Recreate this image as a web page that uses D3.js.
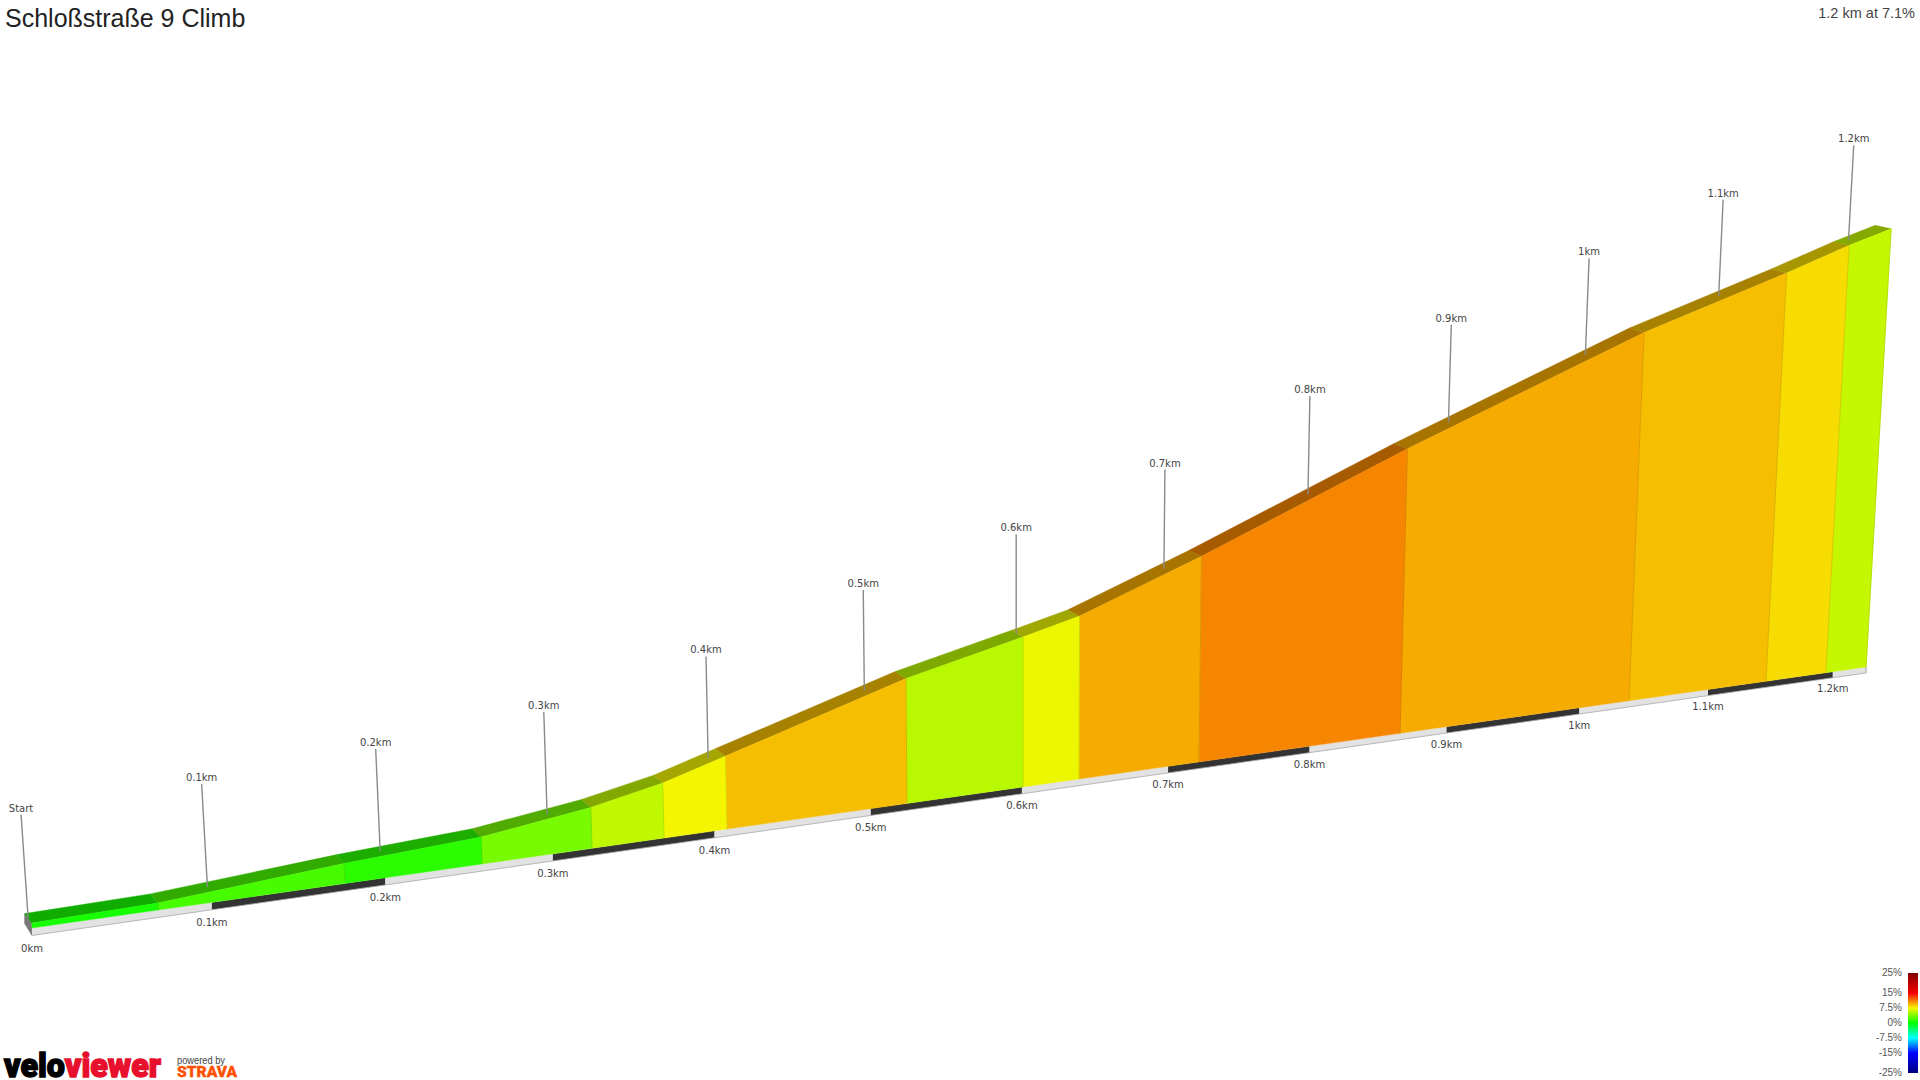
<!DOCTYPE html>
<html>
<head>
<meta charset="utf-8">
<script src="https://cdn.jsdelivr.net/npm/d3@7"></script>
<style>
html,body{margin:0;padding:0;background:#fff;overflow:hidden}
svg{display:block}
</style>
</head>
<body>
<script>
// ---- data ----
const titleText = "Schloßstraße 9 Climb";
const summaryText = "1.2 km at 7.1%";
const distancesKm = [0,0.0697,0.1764,0.2573,0.3239,0.3684,0.4079,0.5236,0.6007,0.6387,0.7216,0.8657,1.0382,1.1461,1.1944,1.2272];
const elevationsM = [0.8,1.16,3.36,4.61,7.07,9.57,12.8,22.33,27.17,29.67,37.98,53.79,71.56,80.69,85.09,87.69];
const gradesPct   = [0.7,2.2,1.3,3.66,5.85,7.4,9.2,5.6,7.2,9.8,10.9,9.8,9.2,8.3,6.0];
const kmTicks = [0,0.1,0.2,0.3,0.4,0.5,0.6,0.7,0.8,0.9,1.0,1.1,1.2];
const baseLabels = ["0km","0.1km","0.2km","0.3km","0.4km","0.5km","0.6km","0.7km","0.8km","0.9km","1km","1.1km","1.2km"];
const poleLabels = ["Start","0.1km","0.2km","0.3km","0.4km","0.5km","0.6km","0.7km","0.8km","0.9km","1km","1.1km","1.2km"];
const legendStops = [25,15,7.5,0,-7.5,-15,-25];
const legendLabels = ["25%","15%","7.5%","0%","-7.5%","-15%","-25%"];
const legendColors = ["#800000","#f60000","#f6f600","#00ff00","#00ffff","#0000ff","#000080"];

// ---- scales and the 3D projection ----
const W = 1920, H = 1080;
const svg = d3.select("body").append("svg").attr("width",W).attr("height",H).attr("viewBox",[0,0,W,H]);

const endKm = distancesKm[distancesKm.length-1];
const gradeColor = d3.scaleLinear().domain(legendStops).range(legendColors).interpolate(d3.interpolateRgb);
const runScale = d3.scaleLinear().domain([0,1]).range([0,1832]);
const stripTopY = d3.scaleLinear().domain([32,1866]).range([928,667]);
const stripBottomY = d3.scaleLinear().domain([32,1866]).range([935.5,673]);
const riseScale = d3.scaleLinear().domain([0,100]).range([0,613.5]);
const elevationAt = d3.scaleLinear().domain(distancesKm).range(elevationsM);
const persp = d => 1/(1+0.184*d);
const VP = [1023,15400];

const baseX = d => 32 + runScale(d)*persp(d);
const base = d => [baseX(d), stripTopY(baseX(d))];
function up(d){ const b=base(d); const vx=b[0]-VP[0], vy=b[1]-VP[1]; const n=Math.hypot(vx,vy); return [vx/n,vy/n]; }
function lift(d,px){ const b=base(d), u=up(d); return [b[0]+u[0]*px, b[1]+u[1]*px]; }
const topFront = (d,e) => lift(d, riseScale(e)*persp(d));
function depth(d){ const t=d/endKm; return [-7-9*t, -9.5+6*t]; }
const topBack = (d,e,k=1) => { const p=topFront(d,e), o=depth(d); return [p[0]+o[0]*k, p[1]+o[1]*k]; };
const poly = pts => pts.map(p=>p.map(v=>v.toFixed(2)).join(",")).join(" ");
const shade = (c,k) => { const r=d3.rgb(c); return d3.rgb(r.r*k,r.g*k,r.b*k).formatHex(); };

// segment table built from the arrays
const segments = gradesPct.map((g,i)=>({d0:distancesKm[i],d1:distancesKm[i+1],e0:elevationsM[i],e1:elevationsM[i+1],color:gradeColor(g)}));

// ---- left end cap ----
const s0 = topFront(0,elevationsM[0]), sb = topBack(0,elevationsM[0]);
svg.append("polygon")
  .attr("points",poly([sb,s0,[baseX(0),stripBottomY(baseX(0))],[sb[0],sb[1]+10]]))
  .attr("fill","#7a7a7a").attr("stroke","#666").attr("stroke-width",0.5);

// ---- strip along the base ----
const stripBreaks = kmTicks.concat([endKm]);
const stripSegs = d3.pairs(stripBreaks).map((p,i)=>({a:p[0],b:p[1],dark:i%2===1}));
svg.append("g").selectAll("polygon").data(stripSegs).join("polygon")
  .attr("points",s=>{
    const xa=baseX(s.a), xb=baseX(s.b);
    return poly([[xa,stripTopY(xa)],[xb,stripTopY(xb)],[xb,stripBottomY(xb)],[xa,stripBottomY(xa)]]);
  })
  .attr("fill",s=>s.dark?"#333333":"#e2e2e2");
svg.append("line")
  .attr("x1",baseX(0)).attr("y1",stripBottomY(baseX(0)))
  .attr("x2",baseX(endKm)).attr("y2",stripBottomY(baseX(endKm)))
  .attr("stroke","#aaa").attr("stroke-width",1).attr("opacity",0.8);
svg.append("line")
  .attr("x1",baseX(endKm)).attr("y1",stripTopY(baseX(endKm)))
  .attr("x2",baseX(endKm)).attr("y2",stripBottomY(baseX(endKm)))
  .attr("stroke","#aaa").attr("stroke-width",1);

// ---- top surface ----
svg.append("g").selectAll("polygon").data(segments).join("polygon")
  .attr("points",s=>poly([topBack(s.d0,s.e0),topBack(s.d1,s.e1),topFront(s.d1,s.e1),topFront(s.d0,s.e0)]))
  .attr("fill",s=>shade(s.color,0.68))
  .attr("stroke",s=>shade(s.color,0.68)).attr("stroke-width",0.4);

// ---- front face ----
svg.append("g").selectAll("polygon").data(segments).join("polygon")
  .attr("points",s=>poly([base(s.d0),topFront(s.d0,s.e0),topFront(s.d1,s.e1),base(s.d1)]))
  .attr("fill",s=>s.color)
  .attr("stroke",s=>s.color).attr("stroke-width",0.4);
svg.append("g").selectAll("line").data(segments).join("line")
  .attr("x1",s=>base(s.d1)[0]).attr("y1",s=>base(s.d1)[1])
  .attr("x2",s=>topFront(s.d1,s.e1)[0]).attr("y2",s=>topFront(s.d1,s.e1)[1])
  .attr("stroke",s=>shade(s.color,0.88)).attr("stroke-width",1).attr("opacity",0.8);

// ---- poles with labels ----
const poleLen = d => 104*(1-0.0667*d);
const poleG = svg.append("g");
kmTicks.forEach((d,i)=>{
  const p = topBack(d,elevationAt(d),0.5), u = up(d), L = poleLen(d);
  const q = [p[0]+u[0]*L, p[1]+u[1]*L];
  poleG.append("line").attr("x1",p[0]).attr("y1",p[1]).attr("x2",q[0]).attr("y2",q[1])
    .attr("stroke","#8a8a8a").attr("stroke-width",1.4);
  poleG.append("text").attr("x",q[0]).attr("y",q[1]-3)
    .attr("text-anchor","middle").attr("font-family","'DejaVu Sans'").attr("font-size",10).attr("fill","#444")
    .text(poleLabels[i]);
});

// ---- base labels ----
svg.append("g").selectAll("text").data(kmTicks).join("text")
  .attr("x",d=>baseX(d))
  .attr("y",d=>stripBottomY(baseX(d))+ 16.5-1.8*d)
  .attr("text-anchor","middle").attr("font-family","'DejaVu Sans'").attr("font-size",10).attr("fill","#444")
  .text((d,i)=>baseLabels[i]);

// ---- title ----
svg.append("text").attr("x",5).attr("y",27).attr("font-family","'Liberation Sans'").attr("font-size",25).attr("fill","#222").text(titleText);
svg.append("text").attr("x",1915).attr("y",18).attr("text-anchor","end").attr("font-family","'Liberation Sans'").attr("font-size",14.5).attr("fill","#444").text(summaryText);

// ---- colour legend ----
const legendY = d3.scaleLinear().domain([25,-25]).range([973,1073]);
const defs = svg.append("defs");
const lg = defs.append("linearGradient").attr("id","legendGrad").attr("x1",0).attr("x2",0).attr("y1",0).attr("y2",1);
legendStops.forEach(v=>lg.append("stop").attr("offset",(legendY(v)-973)/100).attr("stop-color",gradeColor(v)));
svg.append("rect").attr("x",1908).attr("y",legendY(25)).attr("width",10).attr("height",legendY(-25)-legendY(25)).attr("fill","url(#legendGrad)");
svg.append("g").selectAll("text").data(legendStops).join("text")
  .attr("x",1902).attr("y",v=>legendY(v)+3).attr("text-anchor","end")
  .attr("font-family","'Liberation Sans'").attr("font-size",10).attr("fill","#555")
  .text((v,i)=>legendLabels[i]);

// ---- logos ----
const logo = svg.append("text").attr("x",4).attr("y",1077)
  .attr("font-family","Roboto").attr("font-weight",900).attr("font-size",33)
  .attr("textLength",157).attr("lengthAdjust","spacingAndGlyphs");
logo.append("tspan").attr("fill","#000").attr("stroke","#000").attr("stroke-width",1.4).text("velo");
logo.append("tspan").attr("fill","#e8112d").attr("stroke","#e8112d").attr("stroke-width",1.4).text("viewer");
svg.append("text").attr("x",177).attr("y",1064).attr("font-family","'Liberation Sans'").attr("font-size",10).attr("fill","#444")
  .attr("textLength",48).attr("lengthAdjust","spacingAndGlyphs").text("powered by");
svg.append("text").attr("x",177).attr("y",1077).attr("font-family","Roboto").attr("font-weight",900).attr("font-size",15.5).attr("fill","#fc5200")
  .attr("stroke","#fc5200").attr("stroke-width",0.4)
  .attr("textLength",60).attr("lengthAdjust","spacingAndGlyphs").text("STRAVA");
</script>
</body>
</html>
